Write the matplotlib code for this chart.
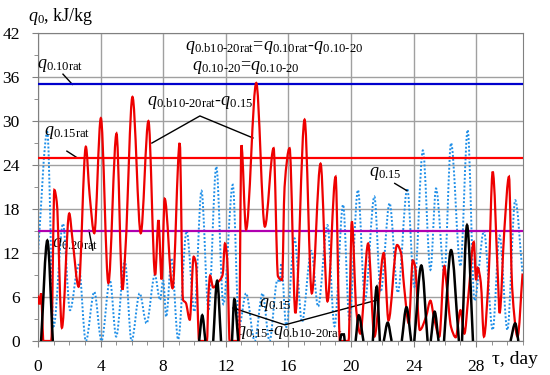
import numpy as np
import matplotlib
matplotlib.use('Agg')
import matplotlib.pyplot as plt
from matplotlib.ticker import MultipleLocator
from matplotlib.path import Path
from matplotlib.patches import PathPatch

plt.rcParams['font.family'] = ['Liberation Serif', 'DejaVu Serif']
plt.rcParams['mathtext.fontset'] = 'custom'
plt.rcParams['mathtext.rm'] = 'Liberation Serif'
plt.rcParams['mathtext.it'] = 'Liberation Serif:italic'

# design (rated) levels, kJ/kg
q_010rat = 35
q_015rat = 25
q_020rat = 15

# q0.b10-20rat - q0.15 (red)
red_day = [0.0, 0.1, 0.2, 0.35, 0.85, 1.05, 1.2, 1.53, 2.0, 2.2, 2.6, 3.06, 3.3, 3.6,
           4.02, 4.5, 5.02, 5.4, 5.6, 6.04, 6.57, 7.06, 7.49, 7.7, 7.9, 8.1, 8.6, 9.06,
           9.27, 9.45, 9.7, 9.95, 10.1, 10.3, 10.8, 10.9, 11.0, 11.2, 11.5, 11.8, 11.95,
           12.1, 12.25, 12.85, 13.0, 13.3, 13.95, 14.5, 15.06, 15.34, 15.6, 15.76, 16.08,
           16.45, 17.04, 17.5, 18.06, 18.5, 19.02, 19.3, 19.85, 20.06, 20.35, 20.6, 21.1,
           21.5, 22.1, 22.4, 22.95, 23.2, 23.4, 23.7, 23.95, 24.1, 24.4, 24.8, 25.08, 25.3,
           25.65, 25.97, 26.1, 26.4, 26.7, 27.0, 27.25, 27.5, 27.85, 28.0, 28.1, 28.3,
           28.5, 28.8, 29.06, 29.4, 29.5, 29.8, 30.1, 30.3, 30.65, 30.97]
red_val = [6.2, 5.0, 6.5, 0.0, 0.0, 20.6, 19.0, 1.8, 17.4, 14.0, 7.4, 26.5, 20.0, 14.7,
           30.4, 7.9, 28.3, 7.0, 12.9, 33.3, 14.7, 30.0, 9.0, 16.5, 8.4, 19.4, 7.2, 27.0,
           5.6, 5.2, 2.9, 11.5, 10.5, 0.0, 0.0, 6.5, 8.9, 7.3, 8.0, 9.0, 13.3,
           11.0, 0.0, 0.0, 26.7, 15.2, 35.2, 15.6, 26.3, 8.8, 8.3, 21.0, 26.3,
           3.8, 30.2, 6.5, 24.2, 5.4, 22.4, 0.0, 0.0, 16.3, 4.0, 1.0, 13.3,
           0.6, 12.0, 2.8, 13.1, 12.0, 7.4, 2.4, 11.0, 10.2, 1.5, 3.3, 5.5, 3.3,
           0.6, 10.2, 8.0, 1.9, 0.5, 4.2, 1.0, 6.0, 13.5, 8.3, 10.0, 8.0,
           0.6, 8.8, 23.1, 8.3, 3.8, 15.0, 22.4, 7.4, 0.6, 9.2]

# q0.15 (blue dotted)
blue_day = [0.0, 0.6, 1.0, 1.6, 2.05, 2.6, 3.06, 3.6, 4.06, 4.6, 5.0, 5.55, 5.98, 6.5,
            6.94, 7.47, 7.8, 8.0, 8.2, 8.53, 8.96, 9.5, 10.0, 10.45, 10.9, 11.4, 11.85,
            12.45, 12.85, 13.3, 13.85, 14.35, 14.8, 15.3, 15.45, 15.55, 15.87, 16.4,
            16.87, 17.47, 17.9, 18.5, 18.95, 19.5, 19.9, 20.45, 20.9, 21.5, 21.9, 22.47,
            23.0, 23.6, 24.05, 24.6, 25.08, 25.44, 25.97, 26.4, 27.0, 27.46, 27.9, 28.5,
            29.06, 29.5, 30.0, 30.5, 30.97]
blue_val = [12.0, 28.5, 2.0, 16.0, 4.2, 10.4, 0.0, 6.7, 0.0, 8.3, 0.6, 11.0, 0.0, 6.5,
            2.4, 9.0, 5.6, 8.3, 3.3, 11.3, 0.2, 15.0, 4.0, 20.5, 4.2, 23.8, 5.0,
            21.3, 2.0, 6.5, 0.0, 6.5, 0.0, 8.3, 8.0, 10.6, 1.9, 14.0,
            2.6, 12.3, 4.7, 15.8, 2.0, 18.6, 2.9, 20.6, 5.6, 19.7, 6.7, 18.8,
            6.6, 20.8, 7.4, 26.0, 9.7, 20.8, 9.2, 27.0, 10.2, 28.8, 5.5, 15.0,
            1.5, 14.4, 1.5, 19.2, 9.2]

# q0.15 - q0.b10-20rat (black), only the positive humps, nan between them
black_day = [0.2, 0.6, 0.95, np.nan, 10.3, 10.5, 10.7, np.nan, 11.2, 11.45, 11.7, np.nan,
             12.4, 12.55, 12.8, np.nan, 19.3, 19.4, 19.55, 19.6, np.nan, 20.3, 20.5, 20.8,
             np.nan, 21.4, 21.65, 21.85, np.nan, 22.1, 22.35, 22.6, np.nan, 23.25, 23.55,
             23.85, np.nan, 24.05, 24.5, 24.9, np.nan, 25.1, 25.35, 25.6, np.nan, 25.95,
             26.4, 26.9, np.nan, 27.1, 27.42, 27.8, np.nan, 30.2, 30.5, 30.7]
black_val = [0.0, 13.7, 0.0, np.nan, 0.0, 3.5, 0.0, np.nan, 0.0, 8.2, 0.0, np.nan,
             0.0, 5.7, 0.0, np.nan, 0.0, 0.9, 0.9, 0.0, np.nan, 0.0, 3.5, 0.0,
             np.nan, 0.0, 7.4, 0.0, np.nan, 0.0, 2.5, 0.0, np.nan, 0.0, 4.6,
             0.0, np.nan, 0.0, 10.3, 0.0, np.nan, 0.0, 4.0, 0.0, np.nan, 0.0,
             12.4, 0.0, np.nan, 0.0, 15.8, 0.0, np.nan, 0.0, 2.4, 0.0]


def pchip_slopes(x, y):
    h = np.diff(x)
    d = np.diff(y) / h
    m = np.zeros_like(y)
    for i in range(1, len(x) - 1):
        if d[i - 1] * d[i] > 0:
            w1 = 2 * h[i] + h[i - 1]
            w2 = h[i] + 2 * h[i - 1]
            m[i] = (w1 + w2) / (w1 / d[i - 1] + w2 / d[i])
    if len(x) > 1:
        m[0] = d[0]
        m[-1] = d[-1]
    return m


def smooth_path(xs, ys):
    # smoothed line like a spreadsheet chart, drawn as cubic Bezier segments
    xs = np.asarray(xs, float)
    ys = np.asarray(ys, float)
    verts, codes = [], []
    breaks = np.where(np.isnan(xs))[0]
    starts = np.concatenate([[0], breaks + 1])
    ends = np.concatenate([breaks, [len(xs)]])
    for a, b in zip(starts, ends):
        x, y = xs[a:b], ys[a:b]
        m = pchip_slopes(x, y)
        verts.append((x[0], y[0]))
        codes.append(Path.MOVETO)
        for i in range(len(x) - 1):
            h = x[i + 1] - x[i]
            verts += [(x[i] + h / 3, y[i] + m[i] * h / 3),
                      (x[i + 1] - h / 3, y[i + 1] - m[i + 1] * h / 3),
                      (x[i + 1], y[i + 1])]
            codes += [Path.CURVE4] * 3
    return Path(verts, codes)


fig = plt.figure(figsize=(5.5, 3.75), dpi=100)
ax = fig.add_axes([0.069, 0.0907, 0.882, 0.821])

ax.axhline(q_010rat, color='#0000cc', lw=1.6, zorder=3)
ax.axhline(q_015rat, color='#ff0000', lw=1.6, zorder=3)
ax.axhline(q_020rat, color='#b000b0', lw=1.6, zorder=3)

ax.add_patch(PathPatch(smooth_path(blue_day, blue_val), fill=False, edgecolor='#1f8fe8',
                       lw=1.4, ls=(0, (1, 1)), zorder=2))
ax.add_patch(PathPatch(smooth_path(red_day, red_val), fill=False, edgecolor='#ee0000',
                       lw=1.6, zorder=4))
ax.add_patch(PathPatch(smooth_path(black_day, black_val), fill=False, edgecolor='black',
                       lw=1.8, zorder=5))

ax.set_xlim(0, 31)
ax.set_ylim(0, 42)
ax.xaxis.set_major_locator(MultipleLocator(4))
ax.xaxis.set_minor_locator(MultipleLocator(1))
ax.yaxis.set_major_locator(MultipleLocator(6))
ax.yaxis.set_minor_locator(MultipleLocator(3))
ax.grid(True, which='major', color='#a0a0a0', lw=1)
ax.tick_params(which='both', direction='out', color='#808080', labelsize=12.5)
ax.tick_params(which='major', length=4)
ax.tick_params(which='minor', length=3)
ax.tick_params(axis='y', pad=9)
ax.tick_params(axis='x', pad=9)
for sp in ax.spines.values():
    sp.set_color('#808080')

fig.text(0.05, 0.955, r'$q_0$, kJ/kg', fontsize=13, va='center')
fig.text(0.895, 0.04, r'τ, day', fontsize=14, va='center')

# labels with leader lines
fs = 13
ax.text(-0.05, 37.6, r'$q_{\text{0.10rat}}$', fontsize=fs, va='center', ha='left')
ax.plot([1.6, 2.2], [36.4, 35.0], color='black', lw=1)

ax.text(15.1, 40.1, r'$q_{\text{0.b10-20rat}}$=$q_{\text{0.10rat}}$-$q_{\text{0.10-20}}$',
        fontsize=fs, ha='center', va='center')
ax.text(13.3, 37.3, r'$q_{\text{0.10-20}}$=$q_{\text{0.10-20}}$',
        fontsize=fs, ha='center', va='center')

ax.text(10.35, 32.5, r'$q_{\text{0.b10-20rat}}$-$q_{\text{0.15}}$',
        fontsize=fs, ha='center', va='center')
ax.plot([7.28, 10.35, 13.74], [27.0, 30.7, 27.7], color='black', lw=1)

ax.text(1.85, 28.5, r'$q_{\text{0.15rat}}$', fontsize=fs, ha='center', va='center')
ax.plot([1.85, 2.5], [25.9, 25.0], color='black', lw=1)

ax.text(2.4, 13.1, r'$q_{\text{0.20rat}}$', fontsize=fs, ha='center', va='center')
ax.plot([3.26, 3.5], [15.1, 12.4], color='black', lw=1)

ax.text(22.2, 22.9, r'$q_{\text{0.15}}$', fontsize=fs, ha='center', va='center')
ax.plot([22.8, 23.58], [21.5, 20.5], color='black', lw=1)

ax.text(15.15, 5.0, r'$q_{\text{0.15}}$', fontsize=fs, ha='center', va='center')

ax.text(16.1, 1.1, r'$q_{\text{0.15}}$-$q_{\text{0.b10-20rat}}$',
        fontsize=fs, ha='center', va='center')
ax.plot([12.46, 15.78, 21.7], [4.5, 2.2, 5.6], color='black', lw=1)

fig.savefig('out.png', dpi=100)
